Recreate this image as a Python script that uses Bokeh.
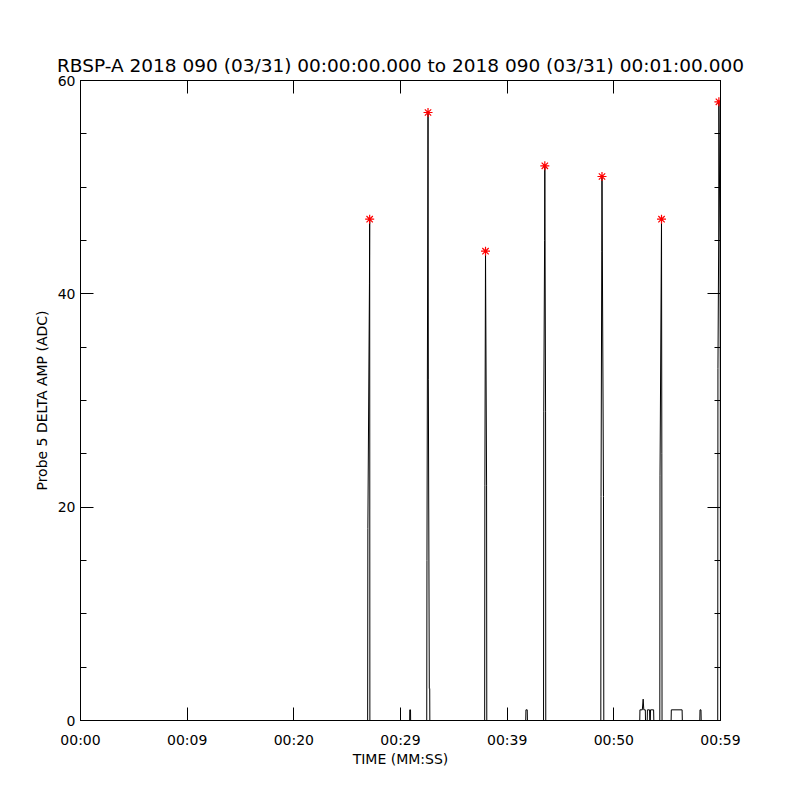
from bokeh.plotting import figure
from bokeh.models import (Range1d, LinearAxis, FixedTicker, CustomJSTickFormatter)
from bokeh.embed import file_html
from bokeh.resources import INLINE

# ---- data (seconds after 00:00:00, ADC counts) ----
time_s = [0.0,
          26.92, 26.94, 27.09, 27.11, 27.13,
          30.86, 30.87, 30.94, 30.95,
          32.46, 32.48, 32.58, 32.61, 32.70, 32.74, 32.75,
          37.89, 37.91, 37.97, 38.07, 38.09,
          41.74, 41.76, 41.88, 41.90,
          43.41, 43.43, 43.51, 43.53, 43.60, 43.62,
          48.78, 48.80, 48.87, 48.89, 49.03, 49.06,
          52.43, 52.45, 52.67, 52.75, 52.81, 52.95, 52.97,
          53.13, 53.15, 53.35, 53.37, 53.42, 53.44, 53.73, 53.75,
          54.31, 54.33, 54.47, 54.50, 54.52,
          55.37, 55.39, 56.40, 56.42,
          58.06, 58.08, 58.17, 58.19,
          59.74, 59.76, 59.83, 59.85, 59.95, 59.98, 60.0]
amp_adc = [0,
           0, 18, 41, 47, 0,
           0, 1, 1, 0,
           0, 15, 57, 32, 3, 3, 0,
           0, 22, 44, 22, 0,
           0, 1, 1, 0,
           0, 29, 45, 52, 29, 0,
           0, 21, 44, 51, 21, 0,
           0, 1, 1, 2, 1, 1, 0,
           0, 1, 1, 0, 0, 1, 1, 0,
           0, 23, 47, 25, 0,
           0, 1, 1, 0,
           0, 1, 1, 0,
           0, 33, 45, 58, 45, 32, 0]

peak_t = [27.11, 32.58, 37.97, 43.53, 48.89, 54.47, 59.85]
peak_v = [47, 57, 44, 52, 51, 47, 58]

x_ticks = [0, 10, 20, 30, 40, 50, 60]
x_tick_labels = ["00:00", "00:09", "00:20", "00:29", "00:39", "00:50", "00:59"]
y_ticks = [0, 20, 40, 60]
y_minor = [0, 5, 10, 15, 20, 25, 30, 35, 40, 45, 50, 55, 60]

title_text = "RBSP-A 2018 090 (03/31) 00:00:00.000 to 2018 090 (03/31) 00:01:00.000"
x_label = "TIME (MM:SS)"
y_label = "Probe 5 DELTA AMP (ADC)"

FONT = "DejaVu Sans"

p = figure(width=792, height=792, output_backend="svg", toolbar_location=None,
           x_range=Range1d(0, 60), y_range=Range1d(0, 60),
           x_axis_location=None, y_axis_location=None,
           min_border_left=80, min_border_right=72,
           min_border_top=80, min_border_bottom=72)
p.background_fill_color = "white"
p.border_fill_color = "white"
p.outline_line_color = "black"
p.xgrid.visible = False
p.ygrid.visible = False

p.title.text = title_text
p.title.align = "center"
p.title.text_font = FONT
p.title.text_font_size = "18.5px"
p.title.text_font_style = "normal"
p.title.text_color = "black"
p.title.standoff = 9


def style_axis(ax, major, minor, labels):
    ax.ticker = FixedTicker(ticks=major, minor_ticks=minor)
    ax.major_tick_in = 13
    ax.major_tick_out = 0
    ax.minor_tick_in = 6 if minor else 0
    ax.minor_tick_out = 0
    ax.axis_line_color = "black"
    ax.major_tick_line_color = "black"
    ax.minor_tick_line_color = "black"
    ax.major_label_text_font = FONT
    ax.major_label_text_font_size = "14px"
    ax.major_label_text_color = "black"
    ax.axis_label_text_font = FONT
    ax.axis_label_text_font_size = "14px"
    ax.axis_label_text_font_style = "normal"
    ax.axis_label_text_color = "black"
    if not labels:
        ax.formatter = CustomJSTickFormatter(code="return '';")
        ax.major_label_standoff = 0


xb = LinearAxis(axis_label=x_label)
style_axis(xb, x_ticks, [], True)
xb.major_label_overrides = {t: s for t, s in zip(x_ticks, x_tick_labels)}
xb.major_label_standoff = 11
xb.axis_label_standoff = 0
p.add_layout(xb, "below")

xt = LinearAxis()
style_axis(xt, x_ticks, [], False)
p.add_layout(xt, "above")

yl = LinearAxis(axis_label=y_label)
style_axis(yl, y_ticks, y_minor, True)
yl.major_label_standoff = 5
yl.axis_label_standoff = 5
p.add_layout(yl, "left")

yr = LinearAxis()
style_axis(yr, y_ticks, y_minor, False)
p.add_layout(yr, "right")

p.line(time_s, amp_adc, line_color="black", line_width=1)
p.scatter(peak_t, peak_v, marker="asterisk", size=9, line_color="red", line_width=1.2)

open("out.html", "w").write(file_html(p, INLINE))
